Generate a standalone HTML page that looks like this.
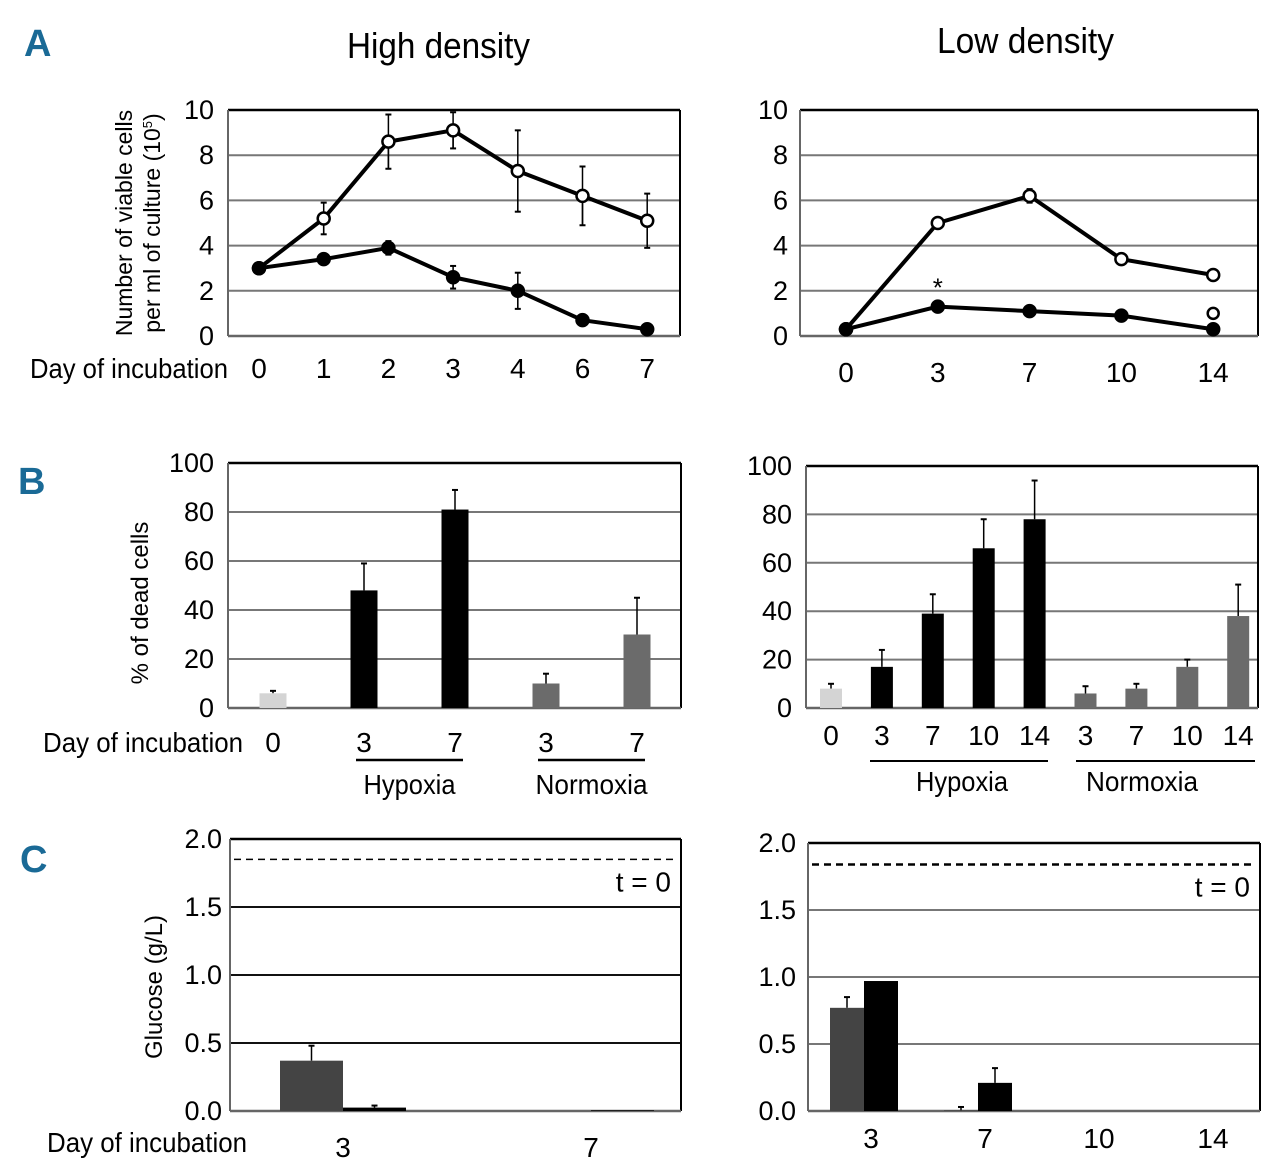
<!DOCTYPE html>
<html><head><meta charset="utf-8">
<style>
html,body{margin:0;padding:0;background:#fff;}
svg{display:block;font-family:"Liberation Sans Narrow","Liberation Sans",sans-serif;}
</style></head>
<body>
<svg id="fig" width="1280" height="1167" viewBox="0 0 1280 1167" xmlns="http://www.w3.org/2000/svg">
<text x="24" y="56" font-size="38" font-weight="bold" fill="#1a6a96">A</text>
<text x="18" y="494" font-size="38" font-weight="bold" fill="#1a6a96">B</text>
<text x="20" y="872" font-size="38" font-weight="bold" fill="#1a6a96">C</text>
<text x="347" y="58" font-size="36" textLength="183" lengthAdjust="spacingAndGlyphs">High density</text>
<text x="937" y="53" font-size="36" textLength="177" lengthAdjust="spacingAndGlyphs">Low density</text>
<text transform="translate(132,223) rotate(-90)" font-size="23" text-anchor="middle">Number of viable cells</text>
<text transform="translate(160,223) rotate(-90)" font-size="23" text-anchor="middle">per ml of culture (10<tspan font-size="13" dy="-8">5</tspan><tspan dy="8">)</tspan></text>
<text transform="translate(148,603) rotate(-90)" font-size="24" text-anchor="middle">% of dead cells</text>
<text transform="translate(162,987) rotate(-90)" font-size="24" text-anchor="middle">Glucose (g/L)</text>
<text x="30" y="378" font-size="28" textLength="198" lengthAdjust="spacingAndGlyphs">Day of incubation</text>
<text x="43" y="752" font-size="28" textLength="200" lengthAdjust="spacingAndGlyphs">Day of incubation</text>
<text x="47" y="1152" font-size="28" textLength="200" lengthAdjust="spacingAndGlyphs">Day of incubation</text>
</svg>
<script>
// ---------- DATA ----------
const aHighDays = ["0","1","2","3","4","6","7"];
const aHighOpen = [3.0,5.2,8.6,9.1,7.3,6.2,5.1];
const aHighOpenErr = [0,0.7,1.2,0.8,1.8,1.3,1.2];
const aHighClosed = [3.0,3.4,3.9,2.6,2.0,0.7,0.3];
const aHighClosedErr = [0,0.2,0.3,0.5,0.8,0,0];
const aLowDays = ["0","3","7","10","14"];
const aLowOpen = [0.3,5.0,6.2,3.4,2.7];
const aLowOpenErr = [0,0,0.3,0,0];
const aLowClosed = [0.3,1.3,1.1,0.9,0.3];
const aLowExtraOpen = [1.0];
const aTicks = [0,2,4,6,8,10];

const bHighCats = ["0","3","7","3","7"];
const bHighVals = [6,48,81,10,30];
const bHighErr = [1,11,8,4,15];
const bHighGroup = ["base","hyp","hyp","norm","norm"];
const bLowCats = ["0","3","7","10","14","3","7","10","14"];
const bLowVals = [8,17,39,66,78,6,8,17,38];
const bLowErr = [2,7,8,12,16,3,2,3,13];
const bLowGroup = ["base","hyp","hyp","hyp","hyp","norm","norm","norm","norm"];
const bTicks = [0,20,40,60,80,100];

const cHighCats = ["3","7"];
const cHighGray = [0.37,0];
const cHighGrayErr = [0.11,0];
const cHighBlack = [0.025,0.005];
const cHighBlackErr = [0.015,0];
const cLowCats = ["3","7","10","14"];
const cLowGray = [0.77,0.005];
const cLowGrayErr = [0.08,0.025];
const cLowBlack = [0.97,0.21];
const cLowBlackErr = [0,0.11];
const cTicks = ["0.0","0.5","1.0","1.5","2.0"];
const cBaseline = [1.85,1.84];

// ---------- HELPERS ----------
const svg = document.getElementById('fig');
const NS = "http://www.w3.org/2000/svg";
function mk(tag, attrs, parent){
  const e = document.createElementNS(NS, tag);
  for (const k in attrs) e.setAttribute(k, attrs[k]);
  (parent||svg).appendChild(e);
  return e;
}
function txt(x,y,s,size,anchor,parent){
  const t = mk('text',{x:x,y:y,'font-size':size,'text-anchor':anchor||'middle'},parent);
  t.textContent = s; return t;
}
function linScale(d0,d1,r0,r1){ return v => r0 + (v-d0)/(d1-d0)*(r1-r0); }

function frame(name, x0,x1,yTop,yBot, ticks, yScale, tickX, gridColor, gridW){
  const g = mk('g',{});
  
  
  ticks.forEach(t=>{
    const v = parseFloat(t), y = yScale(v);
    if (v>0 && y>yTop+3) {
      const l = mk('line',{x1:x0,x2:x1,y1:y,y2:y,stroke:gridColor,'stroke-width':gridW},g);
      
      
    }
    const lab = txt(tickX, y+9, String(t), 27, 'end', g);
    
    
  });
  mk('line',{x1:x0,x2:x1,y1:yTop,y2:yTop,stroke:'#000','stroke-width':2.5},g);
  mk('line',{x1:x1,x2:x1,y1:yTop,y2:yBot,stroke:'#000','stroke-width':2},g);
  mk('line',{x1:x0,x2:x0,y1:yTop,y2:yBot,stroke:'#666','stroke-width':2},g);
  mk('line',{x1:x0,x2:x1,y1:yBot,y2:yBot,stroke:'#666','stroke-width':2.5},g);
  return g;
}
function errBar(g,x,yv,ye,cap){
  mk('line',{x1:x,x2:x,y1:yv,y2:ye,stroke:'#000','stroke-width':1.5},g);
  mk('line',{x1:x-cap,x2:x+cap,y1:ye,y2:ye,stroke:'#000','stroke-width':2},g);
}

// ---------- PANEL A ----------
function lineChart(name, x0,x1,yTop,yBot, xPos, cats, openV, openE, closedV, closedE, tickX, labY){
  const ys = linScale(0,10,yBot,yTop);
  const g = frame(name, x0,x1,yTop,yBot,aTicks,ys,tickX,'#777',2);
  const xs = i => xPos(i);
  [[openV,openE,'#fff','open'],[closedV,closedE,'#000','closed']].forEach(([vals,errs,fill,nm])=>{
    vals.forEach((v,i)=>{ if(errs && errs[i]>0){ errBar(g,xs(i),ys(v-errs[i]),ys(v+errs[i]),3); errBar(g,xs(i),ys(v),ys(v-errs[i]),3);} });
    const pts = vals.map((v,i)=>xs(i)+','+ys(v)).join(' ');
    const pl = mk('polyline',{points:pts,fill:'none',stroke:'#000','stroke-width':4,'stroke-linejoin':'round'},g);
    
    
  });
  [[openV,'#fff','open'],[closedV,'#000','closed']].forEach(([vals,fill,nm])=>{
    vals.forEach((v,i)=>{
      const c = mk('circle',{cx:xs(i),cy:ys(v),r:6,fill:fill,stroke:'#000','stroke-width':2.5},g);
      
      
    });
  });
  cats.forEach((c,i)=>{
    const t = txt(xs(i), labY, c, 28, 'middle', g);
    
    
  });
  return {g,xs,ys};
}
lineChart('chart-a-high', 228,680,110,336, i=>259+i*64.7, aHighDays, aHighOpen, aHighOpenErr, aHighClosed, aHighClosedErr, 214, 378);
const aLowX = i=>846+i*91.8;
const lowA = lineChart('chart-a-low', 800,1258,110,336, aLowX, aLowDays, aLowOpen, aLowOpenErr, aLowClosed, null, 788, 382);
aLowExtraOpen.forEach(v=>{
  const c = mk('circle',{cx:aLowX(4),cy:lowA.ys(v),r:5.5,fill:'#fff',stroke:'#000','stroke-width':2.5},lowA.g);
  
  
});
const star = txt(aLowX(1), lowA.ys(aLowClosed[1])-10, '*', 26, 'middle', lowA.g);



// ---------- PANEL B ----------
const bColors = {base:'#d4d4d4', hyp:'#000', norm:'#6b6b6b'};
function barChart(name,x0,x1,yTop,yBot,xPos,bw,cats,vals,errs,groups,tickX,labY){
  const ys = linScale(0,100,yBot,yTop);
  const g = frame(name,x0,x1,yTop,yBot,bTicks,ys,tickX,'#777',2);
  vals.forEach((v,i)=>{
    const x = xPos(i);
    errBar(g,x,ys(v),ys(v+errs[i]),3);
    const r = mk('rect',{x:x-bw/2,y:ys(v),width:bw,height:yBot-ys(v),fill:bColors[groups[i]]},g);
    
    
    const t = txt(x,labY,cats[i],28,'middle',g);
    
    
  });
  return {g,ys};
}
const bhX = i=>273+i*91;
const bh = barChart('chart-b-high',228,681,463,708,bhX,27,bHighCats,bHighVals,bHighErr,bHighGroup,214,752);
mk('line',{x1:bhX(1)-8,x2:bhX(2)+8,y1:760,y2:760,stroke:'#000','stroke-width':2.5},bh.g);
mk('line',{x1:bhX(3)-8,x2:bhX(4)+8,y1:760,y2:760,stroke:'#000','stroke-width':2.5},bh.g);
let t1 = txt((bhX(1)+bhX(2))/2,794,'Hypoxia',28,'middle',bh.g);
t1.setAttribute('textLength','92'); t1.setAttribute('lengthAdjust','spacingAndGlyphs');
 
let t2 = txt((bhX(3)+bhX(4))/2,794,'Normoxia',28,'middle',bh.g);
t2.setAttribute('textLength','112'); t2.setAttribute('lengthAdjust','spacingAndGlyphs');
 

const blX = i=>831+i*50.9;
const bl = barChart('chart-b-low',806,1258,466,708,blX,22,bLowCats,bLowVals,bLowErr,bLowGroup,792,745);
mk('line',{x1:870,x2:1048,y1:761,y2:761,stroke:'#000','stroke-width':2},bl.g);
mk('line',{x1:1076,x2:1255,y1:761,y2:761,stroke:'#000','stroke-width':2},bl.g);
let t3 = txt(962,791,'Hypoxia',28,'middle',bl.g);
t3.setAttribute('textLength','92'); t3.setAttribute('lengthAdjust','spacingAndGlyphs');
 
let t4 = txt(1142,791,'Normoxia',28,'middle',bl.g);
t4.setAttribute('textLength','112'); t4.setAttribute('lengthAdjust','spacingAndGlyphs');
 

// ---------- PANEL C ----------
function glucoseChart(name,x0,x1,yTop,yBot,xPos,bw,cats,gray,grayE,black,blackE,base,tickX,labY,gridColor,labDx,dashW){
  const ys = linScale(0,2,yBot,yTop);
  const g = frame(name,x0,x1,yTop,yBot,cTicks,ys,tickX,gridColor,2);
  const dl = mk('line',{x1:x0+4,x2:x1-4,y1:ys(base),y2:ys(base),stroke:'#000','stroke-width':dashW,'stroke-dasharray':'7,5'},g);
  
  
  const bt = txt(x1-10, ys(base)+32, 't = 0', 28, 'end', g);
  
  
  cats.forEach((c,i)=>{
    const x = xPos(i);
    if (grayE[i]>0) errBar(g,x-bw/2,ys(gray[i]),ys(gray[i]+grayE[i]),3);
    if (blackE[i]>0) errBar(g,x+bw/2,ys(black[i]),ys(black[i]+blackE[i]),3);
    if (gray[i]>0){
      const r = mk('rect',{x:x-bw,y:ys(gray[i]),width:bw,height:yBot-ys(gray[i]),fill:'#444'},g);
      
      
    }
    if (black[i]>0){
      const r = mk('rect',{x:x,y:ys(black[i]),width:bw,height:yBot-ys(black[i]),fill:'#000'},g);
      
      
    }
    const t = txt(x+labDx,labY,c,28,'middle',g);
    
    
  });
}
glucoseChart('chart-c-high',230,681,839,1111,i=>343+i*248,63,cHighCats,cHighGray,cHighGrayErr,cHighBlack,cHighBlackErr,cBaseline[0],222,1157,'#111',0,1.5);
glucoseChart('chart-c-low',808,1260,843,1111,i=>864+i*114,34,cLowCats,cLowGray,cLowGrayErr,cLowBlack,cLowBlackErr,cBaseline[1],796,1148,'#777',7,2.5);
</script>
</body></html>
